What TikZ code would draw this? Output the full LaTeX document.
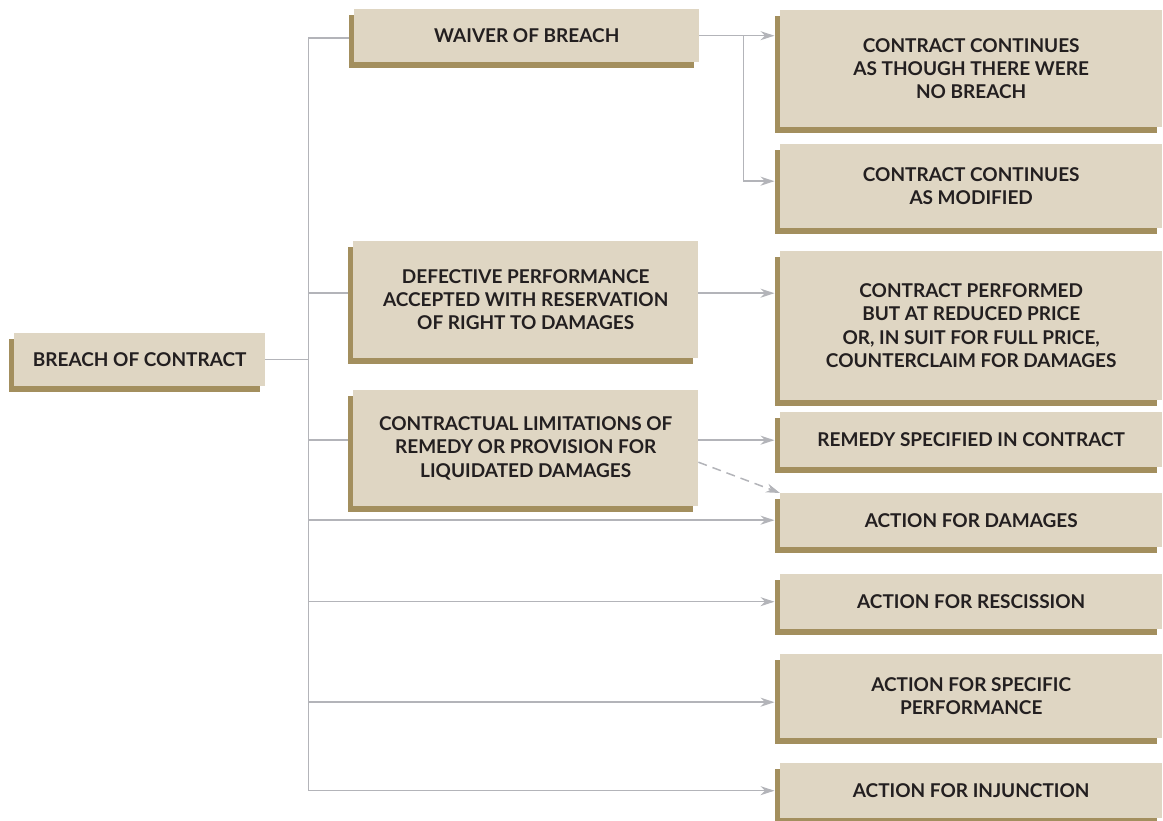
\documentclass[tikz,border=0pt]{standalone}
\usepackage{fontspec}
\setmainfont{Lato}
\usetikzlibrary{arrows.meta, shadows}

\definecolor{boxfill}{HTML}{DFD6C3}
\definecolor{boxshade}{HTML}{A38F5E}
\definecolor{linkgray}{HTML}{B3B4B9}
\definecolor{inkdark}{HTML}{231F20}

\tikzset{
    remedybox/.style={fill=boxfill, text=inkdark, inner sep=0pt, anchor=north west,
        font=\bfseries\fontsize{19}{23.3}\selectfont, align=center,
        drop shadow={shadow xshift=-5.5pt, shadow yshift=-5.5pt, fill=boxshade, opacity=1}},
    link/.style={draw=linkgray, line width=1.5pt, shorten >=5.5pt},
    linkarrow/.style={link, -{Stealth[length=14pt, width=9pt, inset=4.5pt]}},
}

\begin{document}
\begin{tikzpicture}[x=1pt, y=-1pt]
    \useasboundingbox (0,0) rectangle (1163,821);
    % Widths of the columns
    \def\wMid{345}
    \def\wRight{382}

    % Root
    \node[remedybox, minimum width=251, minimum height=53] (breach) at (14,333) {BREACH OF CONTRACT};

    % Middle column
    \node[remedybox, minimum width=\wMid, minimum height=53] (waiver) at (354,9) {WAIVER OF BREACH};
    \node[remedybox, minimum width=\wMid, minimum height=117] (defect) at (353,241)
        {DEFECTIVE PERFORMANCE\\ACCEPTED WITH RESERVATION\\OF RIGHT TO DAMAGES};
    \node[remedybox, minimum width=\wMid, minimum height=116] (limit) at (353,390)
        {CONTRACTUAL LIMITATIONS OF\\REMEDY OR PROVISION FOR\\LIQUIDATED DAMAGES};

    % Right column (outcomes)
    \node[remedybox, minimum width=\wRight, minimum height=117] (cont1) at (780,10)
        {CONTRACT CONTINUES\\AS THOUGH THERE WERE\\NO BREACH};
    \node[remedybox, minimum width=\wRight, minimum height=84] (cont2) at (780,144)
        {CONTRACT CONTINUES\\AS MODIFIED};
    \node[remedybox, minimum width=\wRight, minimum height=149] (perform) at (780,251)
        {CONTRACT PERFORMED\\BUT AT REDUCED PRICE\\OR, IN SUIT FOR FULL PRICE,\\COUNTERCLAIM FOR DAMAGES};
    \node[remedybox, minimum width=\wRight, minimum height=55] (remedy) at (780,412) {REMEDY SPECIFIED IN CONTRACT};
    \node[remedybox, minimum width=\wRight, minimum height=54] (damages) at (780,493) {ACTION FOR DAMAGES};
    \node[remedybox, minimum width=\wRight, minimum height=55] (rescind) at (780,574) {ACTION FOR RESCISSION};
    \node[remedybox, minimum width=\wRight, minimum height=84] (specific) at (780,654)
        {ACTION FOR SPECIFIC\\PERFORMANCE};
    \node[remedybox, minimum width=\wRight, minimum height=55] (injunct) at (780,763) {ACTION FOR INJUNCTION};

    % Trunk from the root
    \coordinate (fork) at ([xshift=43pt]breach.east);
    \draw[link, shorten >=0pt] (breach.east) -- (fork);
    \draw[link] (fork) |- ([yshift=-2.5pt]waiver.west);
    \draw[link] (fork) |- ([yshift=6.5pt]defect.west);
    \draw[link] (fork) |- ([yshift=8pt]limit.west);
    \draw[linkarrow] (fork) |- (damages.west);
    \draw[linkarrow] (fork) |- (rescind.west);
    \draw[linkarrow] (fork) |- ([yshift=-6pt]specific.west);
    \draw[linkarrow] (fork) |- (injunct.west);

    % Waiver splits in two
    \coordinate (split) at ([xshift=44pt]waiver.east);
    \draw[linkarrow] (waiver.east) -- (waiver.east -| cont1.west);
    \draw[linkarrow] (split) |- ([yshift=5pt]cont2.west);

    % Defective performance
    \coordinate (defout) at ([yshift=6.5pt]defect.east);
    \draw[linkarrow] (defout) -- (defout -| perform.west);

    % Limitations of remedy
    \coordinate (limout) at ([yshift=8pt]limit.east);
    \draw[linkarrow] (limout) -- (limout -| remedy.west);
    \draw[linkarrow, shorten >=0pt, dash pattern=on 9pt off 6pt] ([yshift=-14pt]limit.east) -- (damages.north west);
\end{tikzpicture}
\end{document}
